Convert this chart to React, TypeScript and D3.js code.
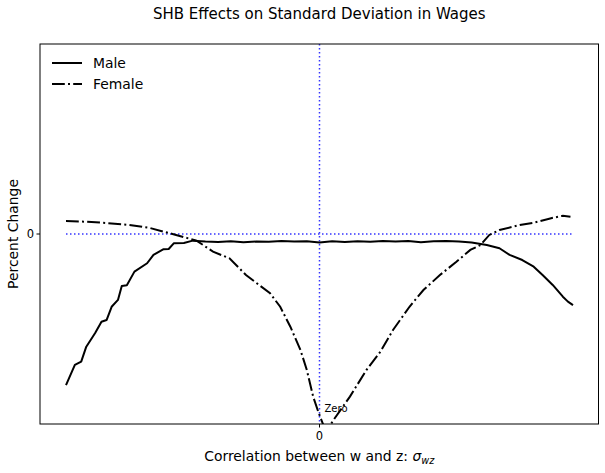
import React from "react";
import * as d3 from "d3";

const maleX = [-1.0, -0.965, -0.94, -0.92, -0.885, -0.86, -0.84, -0.82, -0.795, -0.78, -0.76, -0.73, -0.68, -0.655, -0.615, -0.595, -0.575, -0.535, -0.5, -0.45, -0.4, -0.35, -0.3, -0.25, -0.2, -0.15, -0.1, -0.05, 0.0, 0.05, 0.1, 0.15, 0.2, 0.25, 0.3, 0.35, 0.4, 0.45, 0.5, 0.55, 0.6, 0.66, 0.71, 0.75, 0.8, 0.845, 0.88, 0.92, 0.96, 0.98, 1.0];
const maleY = [-7.95, -6.89, -6.72, -5.93, -5.21, -4.62, -4.53, -3.83, -3.47, -2.74, -2.7, -1.98, -1.54, -1.1, -0.8, -0.79, -0.49, -0.47, -0.35, -0.4, -0.42, -0.38, -0.43, -0.4, -0.41, -0.37, -0.4, -0.38, -0.45, -0.38, -0.42, -0.38, -0.41, -0.37, -0.4, -0.37, -0.43, -0.38, -0.37, -0.39, -0.45, -0.58, -0.75, -1.1, -1.37, -1.72, -2.16, -2.68, -3.3, -3.56, -3.74];

const femaleX = [-1.0, -0.93, -0.84, -0.75, -0.67, -0.58, -0.485, -0.42, -0.355, -0.29, -0.195, -0.155, -0.115, -0.075, -0.05, -0.025, -0.005, 0.015, 0.04, 0.06, 0.12, 0.185, 0.24, 0.29, 0.355, 0.41, 0.475, 0.54, 0.595, 0.635, 0.67, 0.71, 0.79, 0.845, 0.91, 0.96, 0.99];
const femaleY = [0.68, 0.65, 0.58, 0.47, 0.32, 0.0, -0.35, -0.93, -1.28, -2.16, -3.12, -3.83, -4.88, -6.11, -7.16, -8.56, -9.35, -10.05, -10.1, -9.7, -8.56, -7.16, -6.2, -5.05, -3.83, -2.95, -2.16, -1.46, -0.84, -0.58, -0.05, 0.21, 0.47, 0.59, 0.82, 0.96, 0.91];

const xTicks = [0];
const yTicks = [0];
const seriesNames = ["Male", "Female"];

const W = 605, H = 473;
const L = 40, R = 598.5, T = 44, B = 424;
const FONT = "DejaVu Sans, sans-serif";
const DASHDOT = "12.8,3.2,2,3.2";

export default function App() {
  const x = d3.scaleLinear().domain([-1, 1]).range([66, 573]);
  const y = d3.scaleLinear().domain([-10, 10]).range([B, T]);
  const line = d3.line<[number, number]>().x(d => x(d[0])).y(d => y(d[1]));
  const male = line(maleX.map((v, i) => [v, maleY[i]] as [number, number])) || "";
  const female = line(femaleX.map((v, i) => [v, femaleY[i]] as [number, number])) || "";

  return (
    <svg width={W} height={H} style={{ position: "absolute", left: 0, top: 0, background: "#fff" }} fontFamily={FONT}>
      <rect x={0} y={0} width={W} height={H} fill="#fff" />
      <defs>
        <clipPath id="plot">
          <rect x={L} y={T} width={R - L} height={B - T} />
        </clipPath>
      </defs>
      <text x={(L + R) / 2} y={19} textAnchor="middle" fontSize={15}>SHB Effects on Standard Deviation in Wages</text>
      <g clipPath="url(#plot)">
        <line x1={x(-1)} x2={x(1)} y1={y(0)} y2={y(0)} stroke="#0000ff" strokeOpacity={0.8} strokeWidth={1.5} strokeDasharray="1.5,2.5" />
        <line x1={x(0)} x2={x(0)} y1={T} y2={B} stroke="#0000ff" strokeOpacity={0.8} strokeWidth={1.5} strokeDasharray="1.5,2.5" />
        <path d={male} fill="none" stroke="#000" strokeWidth={2} strokeLinejoin="round" />
        <path d={female} fill="none" stroke="#000" strokeWidth={2} strokeDasharray={DASHDOT} />
        <text x={x(0) + 5} y={412} fontSize={10}>Zero</text>
      </g>
      <rect x={L} y={T} width={R - L} height={B - T} fill="none" stroke="#000" strokeWidth={1} />
      {xTicks.map(t => (
        <g key={"x" + t}>
          <line x1={x(t)} x2={x(t)} y1={B} y2={B + 3.5} stroke="#000" />
          <text x={x(t)} y={B + 16} textAnchor="middle" fontSize={11.5}>{t}</text>
        </g>
      ))}
      {yTicks.map(t => (
        <g key={"y" + t}>
          <line x1={L - 3.5} x2={L} y1={y(t)} y2={y(t)} stroke="#000" />
          <text x={L - 6} y={y(t) + 4} textAnchor="end" fontSize={11.5}>{t}</text>
        </g>
      ))}
      <text x={(L + R) / 2} y={461} textAnchor="middle" fontSize={13.9}>
        Correlation between w and z: <tspan fontStyle="italic">σ</tspan><tspan fontStyle="italic" fontSize={9.7} dy={3}>wz</tspan>
      </text>
      <text transform={`translate(18,${(T + B) / 2}) rotate(-90)`} textAnchor="middle" fontSize={13.9}>Percent Change</text>
      {seriesNames.map((n, i) => (
        <g key={n} transform={`translate(0,${63 + i * 21})`}>
          <line x1={52} x2={82} y1={0} y2={0} stroke="#000" strokeWidth={2} strokeDasharray={i === 1 ? DASHDOT : undefined} />
          <text x={93} y={5} fontSize={13.9}>{n}</text>
        </g>
      ))}
    </svg>
  );
}
